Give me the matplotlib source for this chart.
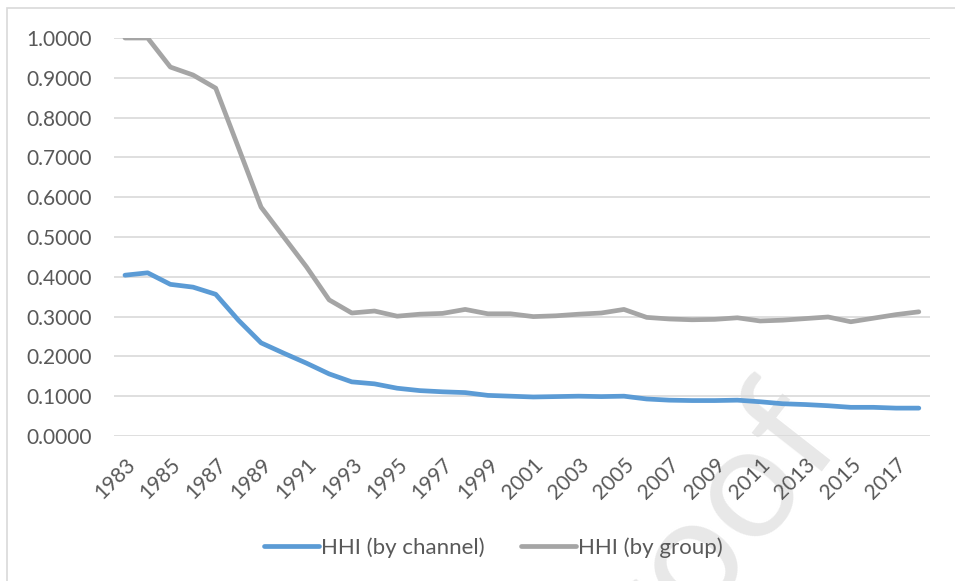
import matplotlib
matplotlib.use('Agg')
import matplotlib.pyplot as plt
from matplotlib.patches import Rectangle

years = list(range(1983, 2019))

hhi_channel = [0.404, 0.410, 0.381, 0.374, 0.356, 0.291, 0.234, 0.208, 0.183, 0.156,
               0.136, 0.131, 0.120, 0.114, 0.111, 0.109, 0.102, 0.100, 0.098, 0.099,
               0.100, 0.099, 0.100, 0.093, 0.090, 0.089, 0.089, 0.090, 0.086, 0.081,
               0.079, 0.076, 0.072, 0.072, 0.070, 0.070]

hhi_group = [1.000, 1.000, 0.927, 0.907, 0.874, 0.725, 0.575, 0.500, 0.425, 0.342,
             0.309, 0.314, 0.301, 0.306, 0.308, 0.318, 0.307, 0.307, 0.300, 0.302,
             0.306, 0.309, 0.318, 0.298, 0.294, 0.292, 0.293, 0.297, 0.289, 0.291,
             0.295, 0.299, 0.287, 0.296, 0.305, 0.312]

yticks = [0.1 * i for i in range(11)]

plt.rcParams['font.family'] = ['Lato', 'DejaVu Sans']

fg = plt.figure(figsize=(9.55, 5.81), dpi=100)
ax = fg.add_axes([0.119, 0.2496, 0.855, 0.685])
ax.set_zorder(1)

# watermark, behind the chart
fg.text(0.718, 0.045, 'Proof', fontsize=115, color='#E8E8E8', rotation=52,
        ha='center', va='center', zorder=0)

# chart border
fg.patches.append(Rectangle((7 / 955, -0.1), 1.1, 1.1 - 8 / 581,
                            transform=fg.transFigure, fill=False,
                            edgecolor='#D9D9D9', lw=1.2, zorder=0))

x = list(range(len(years)))
ax.plot(x, hhi_channel, color='#5B9BD5', lw=3.4, solid_capstyle='round',
        label='HHI (by channel)')
ax.plot(x, hhi_group, color='#A5A5A5', lw=3.4, solid_capstyle='round',
        label='HHI (by group)')

ax.set_xlim(-0.5, len(years) - 0.5)
ax.set_ylim(0, 1.0)
ax.set_yticks(yticks)
ax.set_yticklabels(['%.4f' % v for v in yticks])
ax.set_xticks(x[::2])
ax.set_xticklabels([str(y) for y in years[::2]], rotation=45, ha='right',
                   rotation_mode='anchor')

ax.grid(axis='y', color='#D9D9D9', lw=1.2)
ax.set_axisbelow(True)
for s in ax.spines.values():
    s.set_visible(False)
ax.tick_params(axis='both', length=0, labelsize=15, colors='#595959')
ax.tick_params(axis='y', pad=16)
ax.tick_params(axis='x', pad=13)
ax.patch.set_alpha(0)

leg = ax.legend(loc='center', bbox_to_anchor=(0.465, -0.28), ncol=2,
                frameon=False, fontsize=16, handlelength=2.5,
                handletextpad=0.1, columnspacing=1.6)
for t in leg.get_texts():
    t.set_color('#595959')

fg.savefig('out.png', dpi=100)
